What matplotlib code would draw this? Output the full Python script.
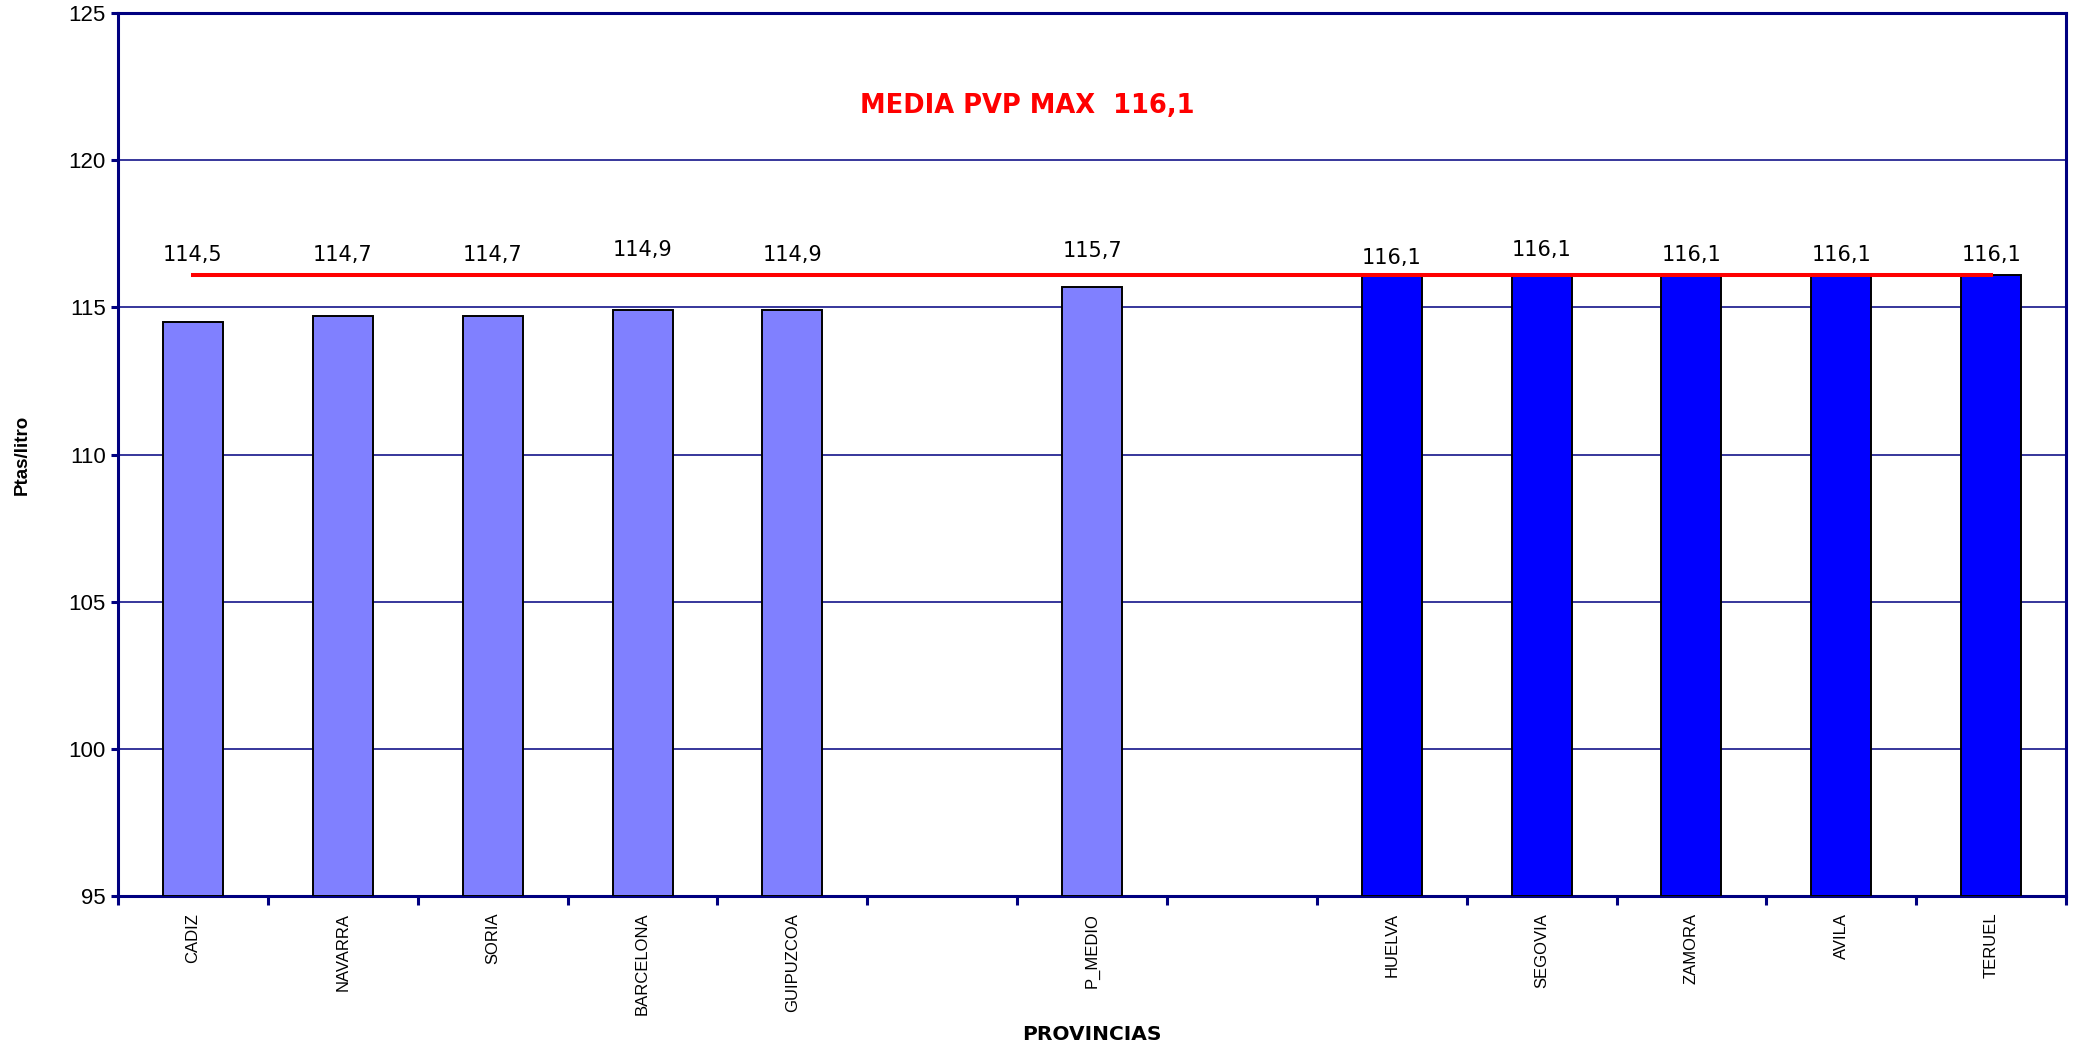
import numpy as np
import matplotlib
matplotlib.use("Agg")
import matplotlib.pyplot as plt

plt.rcParams['font.family'] = ['Liberation Sans', 'DejaVu Sans']

# ---- data ----
categories = ["CADIZ", "NAVARRA", "SORIA", "BARCELONA", "GUIPUZCOA", "",
              "P_MEDIO", "", "HUELVA", "SEGOVIA", "ZAMORA", "AVILA", "TERUEL"]
values = [114.5, 114.7, 114.7, 114.9, 114.9, np.nan,
          115.7, np.nan, 116.1, 116.1, 116.1, 116.1, 116.1]
value_labels = ["114,5", "114,7", "114,7", "114,9", "114,9", "",
                "115,7", "", "116,1", "116,1", "116,1", "116,1", "116,1"]
group = ["low", "low", "low", "low", "low", None,
         "low", None, "max", "max", "max", "max", "max"]
media_max = 116.1
title_text = "MEDIA PVP MAX  116,1"
y_ticks = [95, 100, 105, 110, 115, 120, 125]

# ---- style ----
navy = "#000080"
color_map = {"low": "#8080FF", "max": "#0000FF"}
label_offsets_pt = [7, 7, 7, 11, 7, 0, 10, 0, 5, 11, 7, 7, 7]

fig = plt.figure(figsize=(20.75, 10.51), dpi=100)
ax = fig.add_axes([0.0569, 0.1475, 0.9388, 0.8401])

x = np.arange(len(categories))
for xi, v, g in zip(x, values, group):
    if g is None or np.isnan(v):
        continue
    ax.bar(xi, v - 95, bottom=95, width=0.4, color=color_map[g],
           edgecolor="black", linewidth=1.4, zorder=3)

# red reference line (from first to last category centre)
ax.plot([x[0], x[-1]], [media_max, media_max], color="#FF0000",
        linewidth=2.9, zorder=5, solid_capstyle="projecting")

# value labels
for xi, lab, off in zip(x, value_labels, label_offsets_pt):
    if not lab:
        continue
    ax.annotate(lab, xy=(xi, media_max), xytext=(0, off),
                textcoords="offset points", ha="center", va="bottom",
                fontsize=15, color="black", zorder=6, family="DejaVu Sans")

ax.set_xlim(-0.5, len(categories) - 0.5)
ax.set_ylim(95, 125)
ax.set_yticks(y_ticks)
ax.set_yticklabels([str(t) for t in y_ticks], fontsize=16)

for t in y_ticks[1:-1]:
    ax.axhline(t, color=navy, linewidth=1.1, zorder=1)

# category labels at centres, tick marks at slot boundaries
ax.set_xticks(x)
ax.set_xticklabels(categories, rotation=90, fontsize=12, va="top")
ax.tick_params(axis="x", which="major", length=0, pad=12)
ax.set_xticks(np.arange(-0.5, len(categories) - 0.5 + 1e-9, 1.0), minor=True)
ax.tick_params(axis="x", which="minor", length=6.5, width=2.2,
               color=navy, direction="out")
ax.tick_params(axis="y", which="major", length=5, width=2.2,
               color=navy, direction="out", pad=4)

for sp in ax.spines.values():
    sp.set_color(navy)
    sp.set_linewidth(2.2)

ax.text(0.4666, 0.895, title_text, transform=ax.transAxes, ha="center",
        va="center", color="#FF0000", fontsize=18.5, fontweight="bold",
        family="DejaVu Sans")

ax.set_ylabel("Ptas/litro", fontsize=13.5, fontweight="bold")
ax.yaxis.set_label_coords(-0.045, 0.5)
ax.set_xlabel("PROVINCIAS", fontsize=14.5, fontweight="bold",
              family="DejaVu Sans")
ax.xaxis.set_label_coords(0.5, -0.146)

fig.savefig("out.png", dpi=100, facecolor="white")
